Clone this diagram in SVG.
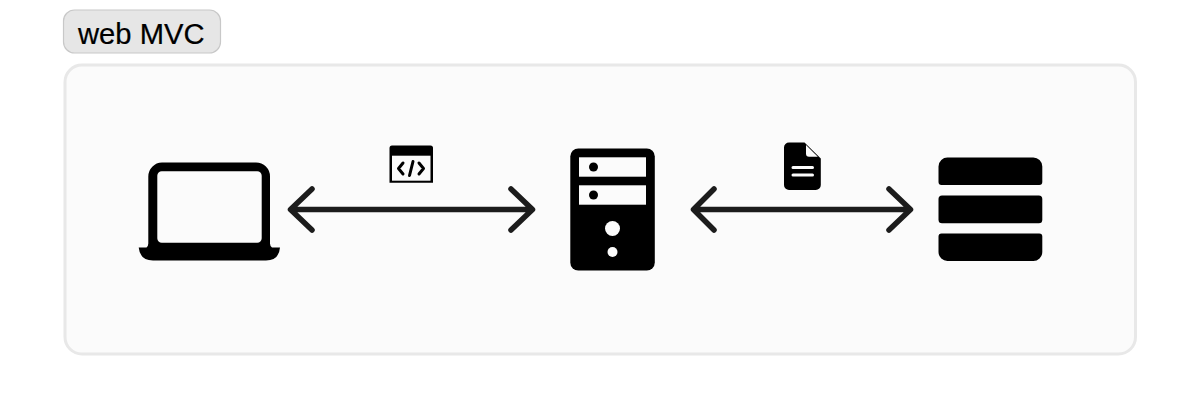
<svg xmlns="http://www.w3.org/2000/svg" width="1200" height="419" viewBox="0 0 1200 419">
<style>
.ic{fill:#000}
.wh{fill:#fbfbfb}
.ar{fill:none;stroke:#1c1c1c;stroke-width:5.500;stroke-linecap:round;stroke-linejoin:round}
.cd{fill:none;stroke:#000;stroke-width:3;stroke-linecap:round;stroke-linejoin:round}
</style>
<rect width="1200" height="419" fill="#fff"/>
<g id="title">
<rect x="63.500" y="10" width="157" height="43" rx="11" fill="#e6e6e6" stroke="#c8c8c8" stroke-width="1.200"/>
<text x="78" y="44" font-family="'Liberation Sans',Arial,sans-serif" font-size="29.200" fill="#000" stroke="#000" stroke-width="0.200">web MVC</text>
</g>
<g id="panel">
<rect x="65" y="65" width="1070.500" height="289" rx="17" fill="#fbfbfb" stroke="#e8e8e8" stroke-width="3"/>
</g>
<g id="connectors">
<path class="ar" d="M291 209.500H532M312 189L290.500 209.500L312 230M511 189L532.500 209.500L511 230"/>
<path class="ar" d="M694 209.500H910M714 189L693.500 209.500L714 230M889 189L910.500 209.500L889 230"/>
</g>
<g id="laptop">
<path class="ic" fill-rule="evenodd" d="M162 162.500H256A14 14 0 0 1 270 176.500V243.500Q270 246 272 247.500H280Q279 260.500 266 260.500H153Q140 260.500 138.700 247.500H146.500Q148.300 246 148.300 243.500V176.500A14 14 0 0 1 162 162.500ZM162 171.300A4.500 4.500 0 0 0 157.300 176V238A4.500 4.500 0 0 0 162 242.700H257A4.500 4.500 0 0 0 261.700 238V176A4.500 4.500 0 0 0 257 171.300Z"/>
</g>
<g id="server">
<rect class="ic" x="570.300" y="148.500" width="84.500" height="122" rx="8"/>
<rect class="wh" x="579" y="157.300" width="67" height="19.400"/>
<rect class="wh" x="579" y="185.300" width="67" height="19.400"/>
<circle class="ic" cx="593.500" cy="167" r="4.500"/>
<circle class="ic" cx="593.500" cy="195" r="4.500"/>
<circle class="wh" cx="612.500" cy="228.500" r="7.500"/>
<circle class="wh" cx="612.500" cy="252" r="5"/>
</g>
<g id="database">
<path class="ic" d="M948 157.500H1033A9 9 0 0 1 1042.300 166.500V182A3 3 0 0 1 1039.300 185H941.500A3 3 0 0 1 938.500 182V166.500A9 9 0 0 1 948 157.500Z"/>
<rect class="ic" x="938.500" y="195.500" width="103.800" height="27.700" rx="3.500"/>
<path class="ic" d="M941.500 233.500H1039.300A3 3 0 0 1 1042.300 236.500V252A9 9 0 0 1 1033 261H948A9 9 0 0 1 938.500 252V236.500A3 3 0 0 1 941.500 233.500Z"/>
</g>
<g id="code-icon">
<path class="ic" d="M392 145.500H430.500A2.500 2.500 0 0 1 433 148V182.700H389.500V148A2.500 2.500 0 0 1 392 145.500Z"/>
<rect class="wh" x="392" y="155.700" width="38.500" height="25"/>
<path class="cd" d="M403 163L398.500 168.500L403 174M419 163L423.500 168.500L419 174M413 161.500L409.500 175.500"/>
</g>
<g id="doc-icon">
<path class="ic" d="M789 142.500H804.500L820.800 158.500V185A5 5 0 0 1 815.800 190H789A5 5 0 0 1 784 185V147.500A5 5 0 0 1 789 142.500Z"/>
<path class="wh" d="M806 145L817.800 156.700H809A3 3 0 0 1 806 153.700Z"/>
<path d="M793 167.500H812.500M793 175H812.500" fill="none" stroke="#fbfbfb" stroke-width="3" stroke-linecap="round"/>
</g>
</svg>
